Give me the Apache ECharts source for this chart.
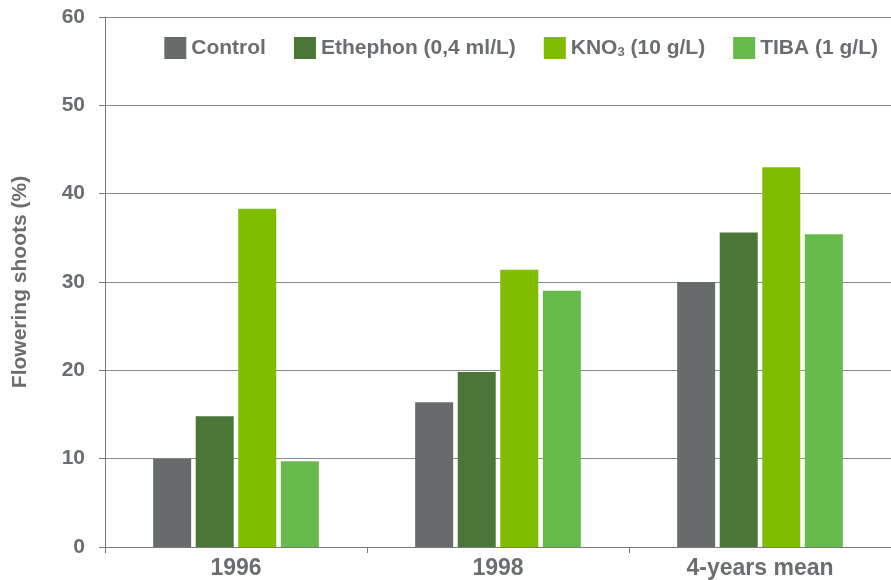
<!DOCTYPE html>
<html>
<head>
<meta charset="utf-8">
<script src="https://cdn.jsdelivr.net/npm/echarts@6/dist/echarts.min.js"></script>
<style>
  html, body { margin: 0; padding: 0; background: #fff; }
  #chart { width: 891px; height: 580px; }
</style>
</head>
<body>
<div id="chart"></div>
<script>
// Flowering shoots (%) by treatment and season
const categories = ['1996', '1998', '4-years mean'];
const seriesNames = ['Control', 'Ethephon (0,4 ml/L)', 'KNO3 (10 g/L)', 'TIBA (1 g/L)'];
const control  = [10.0, 16.4, 30.0];
const ethephon = [14.8, 19.8, 35.6];
const kno3     = [38.3, 31.4, 43.0];
const tiba     = [9.7, 29.0, 35.4];
const yTicks = [0, 10, 20, 30, 40, 50, 60];

const colors = ['#686b6c', '#4a7637', '#80bc00', '#66bb4a'];
const textGrey = '#6b6e70';
const fontFamily = '"Liberation Sans", Arial, sans-serif';

const values = [control, ethephon, kno3, tiba];

const chart = echarts.init(document.getElementById('chart'), null, { renderer: 'canvas' });

chart.setOption({
  animation: false,
  color: colors,
  textStyle: { fontFamily: fontFamily },
  grid: { left: 105, top: 17, width: 789, bottom: 32, containLabel: false },
  legend: {
    right: 8,
    top: 32,
    itemWidth: 22,
    itemHeight: 22,
    itemGap: 28,
    icon: 'rect',
    data: seriesNames,
    formatter: function (name) {
      if (name === 'KNO3 (10 g/L)') return 'KNO{sub|3} (10 g/L)';
      return name;
    },
    textStyle: {
      color: textGrey,
      fontWeight: 'bold',
      fontSize: 21,
      fontFamily: fontFamily,
      rich: {
        sub: {
          fontSize: 13,
          fontWeight: 'bold',
          color: textGrey,
          fontFamily: fontFamily,
          verticalAlign: 'bottom',
          lineHeight: 21
        }
      }
    }
  },
  xAxis: {
    type: 'category',
    data: categories,
    axisLine: { show: true, lineStyle: { color: '#7a7a7a', width: 1 } },
    axisTick: { show: true, alignWithLabel: false, length: 6, lineStyle: { color: '#7a7a7a' } },
    axisLabel: {
      color: textGrey,
      fontWeight: 'bold',
      fontSize: 23,
      margin: 10,
      fontFamily: fontFamily
    }
  },
  yAxis: {
    type: 'value',
    min: yTicks[0],
    max: yTicks[yTicks.length - 1],
    interval: 10,
    name: 'Flowering shoots (%)',
    nameLocation: 'middle',
    nameGap: 74,
    nameRotate: 90,
    nameTextStyle: {
      color: textGrey,
      fontWeight: 'bold',
      fontSize: 21,
      fontFamily: fontFamily
    },
    axisLine: { show: true, lineStyle: { color: '#7a7a7a', width: 1 } },
    axisTick: { show: true, inside: false, length: 6, lineStyle: { color: '#7a7a7a' } },
    axisLabel: {
      color: textGrey,
      fontWeight: 'bold',
      fontSize: 21,
      margin: 20,
      fontFamily: fontFamily
    },
    splitLine: { show: true, lineStyle: { color: '#8a8a8a', width: 1 } }
  },
  series: seriesNames.map(function (name, i) {
    return {
      name: name,
      type: 'bar',
      data: values[i],
      barWidth: 38,
      barGap: '12%',
      itemStyle: { color: colors[i] }
    };
  })
});
</script>
</body>
</html>
